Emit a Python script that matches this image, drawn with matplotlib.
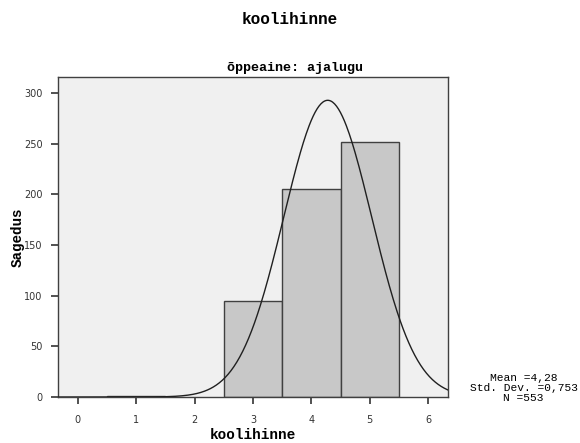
import numpy as np
import matplotlib
matplotlib.use("Agg")
import matplotlib.pyplot as plt

# Data
grades = [1, 2, 3, 4, 5]
counts = [1, 0, 95, 205, 252]
mean_val = 4.28
sd_val = 0.753
n_total = 553
x_ticks = [0, 1, 2, 3, 4, 5, 6]
y_ticks = [0, 50, 100, 150, 200, 250, 300]

mono = "Liberation Mono"

fig = plt.figure(figsize=(5.8, 4.43), dpi=100)
ax = fig.add_axes([0.1, 0.1038, 0.6724, 0.7224])
ax.set_facecolor("#F0F0F0")

for g, c in zip(grades, counts):
    if c > 0:
        ax.bar(g, c, width=1.0, color="#C8C8C8", edgecolor="#404040", linewidth=1.0, zorder=2)

xs = np.linspace(-0.34, 6.34, 400)
ys = n_total * 1.0 / (sd_val * np.sqrt(2 * np.pi)) * np.exp(-0.5 * ((xs - mean_val) / sd_val) ** 2)
ax.plot(xs, ys, color="#202020", linewidth=1.0, zorder=3)

ax.set_xlim(-0.34, 6.34)
ax.set_ylim(0, 316)
ax.set_xticks(x_ticks)
ax.set_yticks(y_ticks)
ax.tick_params(axis="both", direction="out", length=5, width=1.2, labelsize=7, colors="#333333", pad=6)
ax.tick_params(axis="x", pad=8)
for s in ax.spines.values():
    s.set_color("#404040")
    s.set_linewidth(1.0)

fig.text(0.509, 0.847, "õppeaine: ajalugu", ha="center", va="center", fontfamily=mono, fontweight="bold", fontsize=9.6)
fig.text(0.436, 0.018, "koolihinne", ha="center", va="center", fontfamily=mono, fontweight="bold", fontsize=10.4)
fig.text(0.031, 0.465, "Sagedus", ha="center", va="center", rotation=90, fontfamily=mono, fontweight="bold", fontsize=10.3)

fig.text(0.5, 0.955, "koolihinne", ha="center", va="center", fontfamily=mono, fontweight="bold", fontsize=11.5)
stats = "Mean =" + f"{mean_val:.2f}".replace(".", ",") + "\nStd. Dev. =" + f"{sd_val:.3f}".replace(".", ",") + f"\nN ={n_total}"
fig.text(0.903, 0.124, stats, ha="center", va="center", fontfamily=mono, fontsize=8.1, linespacing=0.95)

fig.savefig("out.png", dpi=100)
